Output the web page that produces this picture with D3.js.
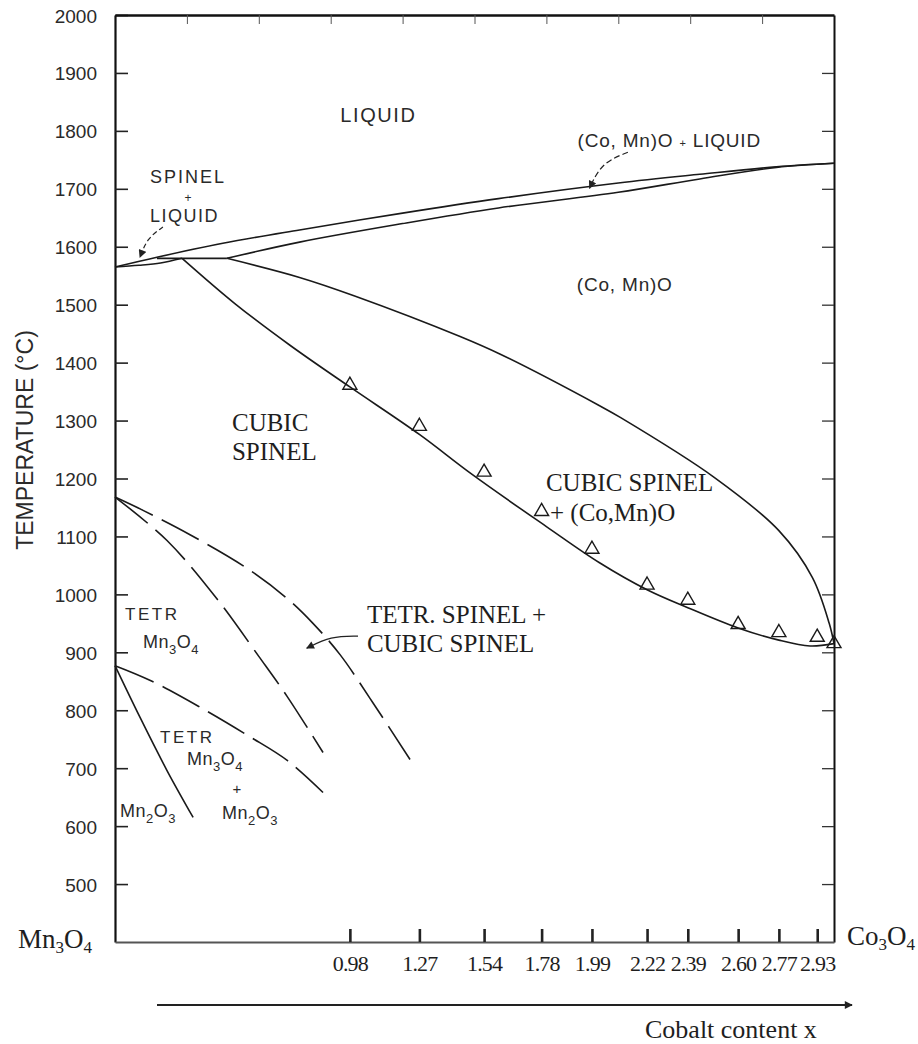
<!DOCTYPE html>
<html>
<head>
<meta charset="utf-8">
<script src="https://cdn.jsdelivr.net/npm/d3@7"></script>
<style>
  body { margin: 0; background: #fff; }
  svg { display: block; }
  .hand { font-family: "Liberation Sans", Arial, sans-serif; fill: #2a2a2a; }
  .serif { font-family: "Liberation Serif", "Times New Roman", serif; fill: #1e1e1e; }
</style>
</head>
<body>
<svg width="918" height="1044"></svg>
<script>
// tick labels / axis values
const tempTicks = [500, 600, 700, 800, 900, 1000, 1100, 1200, 1300, 1400, 1500, 1600, 1700, 1800, 1900, 2000];
const rightTicks = [500, 600, 700, 800, 900, 1000, 1100, 1200, 1300, 1400, 1500, 1600, 1700, 1800, 1900];
const topTicks = [0.3, 0.6, 0.9, 1.2, 1.5, 1.8, 2.1, 2.4, 2.7];
const cobaltTicks = [0.98, 1.27, 1.54, 1.78, 1.99, 2.22, 2.39, 2.60, 2.77, 2.93];

// measured points (triangles)
const pointX = [0.98, 1.27, 1.54, 1.78, 1.99, 2.22, 2.39, 2.60, 2.77, 2.93, 3.0];
const pointT = [1361, 1290, 1211, 1143, 1078, 1016, 990, 948, 934, 926, 915];

// phase boundaries [x, T]
const liquidus = [[0, 1565], [0.175, 1582], [0.45, 1606], [0.77, 1629], [1.2, 1658], [1.6, 1683], [2.1, 1710], [2.44, 1725], [2.76, 1738], [3, 1744]];
const rocksaltSolidus = [[0.467, 1580], [0.77, 1608], [1.2, 1640], [1.6, 1667], [2.1, 1694], [2.44, 1717], [2.76, 1737], [3, 1744]];
const spinelSolidus = [[0, 1565], [0.1, 1568], [0.19, 1572], [0.28, 1580]];
const peritectic = [[0.175, 1580], [0.467, 1580]];
const spinelSolvus = [[0.28, 1580], [0.5, 1502], [0.73, 1430], [0.98, 1358], [1.27, 1276], [1.49, 1207], [1.8, 1117], [2.02, 1055], [2.22, 1008], [2.39, 977], [2.6, 942], [2.77, 921], [2.9, 911], [3, 915]];
const rocksaltSolvus = [[0.467, 1580], [0.77, 1547], [1.0, 1515], [1.44, 1445], [1.61, 1414], [2.02, 1326], [2.11, 1305], [2.5, 1202], [2.77, 1110], [2.91, 1029], [2.98, 950], [3, 915]];
const tetrOuter = [[0, 1168], [0.117, 1145], [0.313, 1103], [0.551, 1045], [0.718, 993], [0.826, 950], [0.939, 896], [1.076, 813], [1.231, 715]];
const tetrInner = [[0, 1168], [0.217, 1093], [0.426, 992], [0.6, 893], [0.718, 824], [0.868, 727]];
const mn2o3Upper = [[0, 877], [0.15, 851], [0.356, 805], [0.56, 755], [0.72, 713], [0.868, 658]];
const mn2o3Lower = [[0, 877], [0.104, 788], [0.217, 696], [0.326, 615]];

const svg = d3.select('svg');
const x = d3.scaleLinear().domain([0, 3]).range([115, 834]);
const y = d3.scaleLinear().domain([400, 2000]).range([942, 15]);

svg.append('defs').append('marker')
  .attr('id', 'ah')
  .attr('viewBox', '0 0 10 10')
  .attr('refX', 9).attr('refY', 5)
  .attr('markerWidth', 9).attr('markerHeight', 8)
  .attr('markerUnits', 'userSpaceOnUse')
  .attr('orient', 'auto')
  .append('path').attr('d', 'M0,0L10,5L0,10z').attr('fill', '#222');

// axes
const leftAx = svg.append('g').attr('transform', `translate(${x(0)},0)`)
  .call(d3.axisLeft(y).tickValues(tempTicks).tickSize(-13).tickSizeOuter(0).tickFormat(d3.format('d')));
leftAx.select('.domain').attr('stroke', '#111').attr('stroke-width', 2.2);
leftAx.selectAll('.tick line').attr('stroke', '#222').attr('stroke-width', 1.6);
leftAx.selectAll('.tick text')
  .attr('x', -18).attr('dy', 7)
  .attr('fill', '#2a2a2a')
  .style('font-family', '"Liberation Sans", Arial, sans-serif')
  .style('font-size', '19px');

const rightAx = svg.append('g').attr('transform', `translate(${x(3)},0)`)
  .call(d3.axisRight(y).tickValues(rightTicks).tickSize(-12).tickSizeOuter(0).tickFormat(''));
rightAx.select('.domain').attr('stroke', '#111').attr('stroke-width', 2);
rightAx.selectAll('.tick line').attr('stroke', '#333').attr('stroke-width', 1.3);

const topAx = svg.append('g').attr('transform', `translate(0,${y(2000)})`)
  .call(d3.axisTop(x).tickValues(topTicks).tickSize(-9).tickSizeOuter(0).tickFormat(''));
topAx.select('.domain').attr('stroke', '#111').attr('stroke-width', 2.4);
topAx.selectAll('.tick line').attr('stroke', '#555').attr('stroke-width', 1);

const bottomAx = svg.append('g').attr('transform', `translate(0,${y(400)})`)
  .call(d3.axisBottom(x).tickValues(cobaltTicks).tickSize(-13).tickSizeOuter(0).tickFormat(d3.format('.2f')));
bottomAx.select('.domain').attr('stroke', '#555').attr('stroke-width', 2);
bottomAx.selectAll('.tick line').attr('stroke', '#222').attr('stroke-width', 2.6);
bottomAx.selectAll('.tick text')
  .attr('y', 29).attr('dy', 0)
  .attr('fill', '#1e1e1e')
  .style('font-family', '"Liberation Serif", "Times New Roman", serif')
  .style('font-size', '22px')
  .style('letter-spacing', '-0.8px');

// phase boundaries
const line = d3.line().x(d => x(d[0])).y(d => y(d[1])).curve(d3.curveCatmullRom.alpha(0.5));

const solid = [liquidus, rocksaltSolidus, spinelSolidus, peritectic, spinelSolvus, rocksaltSolvus, mn2o3Lower];
svg.append('g').selectAll('path').data(solid).enter().append('path')
  .attr('d', line)
  .attr('fill', 'none').attr('stroke', '#1a1a1a').attr('stroke-width', 1.6);

svg.append('g').selectAll('path').data([tetrOuter, tetrInner, mn2o3Upper]).enter().append('path')
  .attr('d', line)
  .attr('fill', 'none').attr('stroke', '#1a1a1a').attr('stroke-width', 1.6)
  .attr('stroke-dasharray', '42,10');

// triangles
svg.append('g').selectAll('path').data(pointX).enter().append('path')
  .attr('d', d3.symbol().type(d3.symbolTriangle).size(85))
  .attr('transform', (d, i) => `translate(${x(d)},${y(pointT[i])})`)
  .attr('fill', 'none').attr('stroke', '#1a1a1a').attr('stroke-width', 1.4);

// formula text helper: "Mn_3O_4" -> subscripts lowered
function formula(sel, str, sub) {
  let shift = 0;
  str.split(/(_\d)/).forEach(part => {
    if (!part) return;
    if (part[0] === '_') {
      sel.append('tspan').attr('dy', sub.dy).style('font-size', sub.size).text(part.slice(1));
      shift = -sub.dy;
    } else {
      sel.append('tspan').attr('dy', shift).text(part);
      shift = 0;
    }
  });
  return sel;
}

function hand(tx, tT, txt, size, spacing) {
  return svg.append('text').attr('class', 'hand')
    .attr('x', x(tx)).attr('y', y(tT))
    .style('font-size', size + 'px')
    .style('letter-spacing', (spacing || 0) + 'px')
    .text(txt);
}
function serif(tx, tT, txt) {
  return svg.append('text').attr('class', 'serif')
    .attr('x', x(tx)).attr('y', y(tT))
    .style('font-size', '25px')
    .text(txt);
}

hand(0.94, 1815, 'LIQUID', 20, 1.6);
hand(0.146, 1710, 'SPINEL', 18, 2);
hand(0.305, 1678, '+', 12).attr('text-anchor', 'middle');
hand(0.146, 1642, 'LIQUID', 18, 1.5);
const cl = hand(1.93, 1772, '', 19, 0.8);
cl.append('tspan').text('(Co, Mn)O ');
cl.append('tspan').style('font-size', '11px').text('+');
cl.append('tspan').text(' LIQUID');
hand(1.927, 1523, '(Co, Mn)O', 19, 0.8);

serif(0.488, 1282, 'CUBIC');
serif(0.488, 1232, 'SPINEL');
serif(1.798, 1178, 'CUBIC SPINEL');
serif(1.815, 1126, '+ (Co,Mn)O');
serif(1.051, 950, 'TETR. SPINEL +');
serif(1.051, 900, 'CUBIC SPINEL');

const subHand = { dy: 6, size: '13px' };
hand(0.042, 955, 'TETR', 17, 2.5);
formula(hand(0.117, 907, '', 18, 0.5), 'Mn_3O_4', subHand);
hand(0.188, 743, 'TETR', 17, 2.5);
formula(hand(0.30, 705, '', 18, 0.5), 'Mn_3O_4', subHand);
hand(0.509, 655, '+', 15).attr('text-anchor', 'middle');
formula(hand(0.446, 613, '', 18, 0.5), 'Mn_2O_3', subHand);
formula(hand(0.021, 615, '', 18, 0.5), 'Mn_2O_3', subHand);

// pointer arrows
const curvy = d3.line().x(d => x(d[0])).y(d => y(d[1])).curve(d3.curveBasis);
svg.append('path')
  .attr('d', curvy([[0.2, 1634], [0.135, 1615], [0.104, 1582]]))
  .attr('fill', 'none').attr('stroke', '#222').attr('stroke-width', 1.2)
  .attr('stroke-dasharray', '5,3').attr('marker-end', 'url(#ah)');
svg.append('path')
  .attr('d', curvy([[2.14, 1763], [2.03, 1745], [1.98, 1701]]))
  .attr('fill', 'none').attr('stroke', '#222').attr('stroke-width', 1.2)
  .attr('stroke-dasharray', '6,3').attr('marker-end', 'url(#ah)');
svg.append('path')
  .attr('d', curvy([[1.014, 928], [0.9, 928], [0.8, 907]]))
  .attr('fill', 'none').attr('stroke', '#222').attr('stroke-width', 1.3)
  .attr('marker-end', 'url(#ah)');

// axis titles
svg.append('text').attr('class', 'hand')
  .attr('transform', 'translate(33,440) rotate(-90)')
  .attr('text-anchor', 'middle')
  .style('font-size', '23px')
  .text('TEMPERATURE (°C)');

const subSerif = { dy: 5, size: '17px' };
formula(svg.append('text').attr('class', 'serif').attr('x', 18).attr('y', 948).style('font-size', '27px'), 'Mn_3O_4', subSerif);
formula(svg.append('text').attr('class', 'serif').attr('x', 847).attr('y', 945).style('font-size', '27px'), 'Co_3O_4', subSerif);

svg.append('line')
  .attr('x1', 157).attr('x2', 852).attr('y1', 1005).attr('y2', 1005)
  .attr('stroke', '#222').attr('stroke-width', 2)
  .attr('marker-end', 'url(#ah)');
svg.append('text').attr('class', 'serif')
  .attr('x', 645).attr('y', 1038)
  .style('font-size', '26px')
  .text('Cobalt content x');
</script>
</body>
</html>
